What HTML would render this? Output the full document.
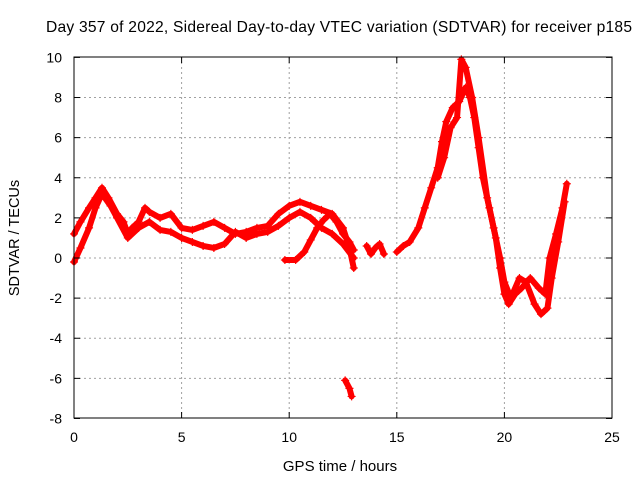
<!DOCTYPE html>
<html><head><meta charset="utf-8"><style>
body{margin:0;background:#fff}
svg text{font-family:"Liberation Sans",sans-serif;font-size:14px;fill:#000}
</style></head><body>
<svg id="chart" width="640" height="480">
<text x="339" y="32" text-anchor="middle" style="font-size:15.6px" textLength="586" lengthAdjust="spacing">Day 357 of 2022, Sidereal Day-to-day VTEC variation (SDTVAR) for receiver p185</text>
<g id="grid"></g><g id="data"></g><g id="axes"></g>
<text x="340" y="471" text-anchor="middle" style="font-size:15px">GPS time / hours</text>
<text transform="translate(19,238) rotate(-90)" text-anchor="middle" style="font-size:14.5px">SDTVAR / TECUs</text>
</svg>
<script>
const xTicks=[0,5,10,15,20,25];
const yTicks=[-8,-6,-4,-2,0,2,4,6,8,10];
const s1x=[0,0.3,0.7,1,1.3,1.6,2,2.3,2.5,2.7,3,3.3,3.5,4,4.5,5,5.5,6,6.5,7,7.5,8,8.5,9,9.5,10,10.5,11,11.5,12,12.5,12.8,13];
const s1y=[1.2,1.8,2.5,3,3.5,3,2.2,1.8,1.2,1.5,1.8,2.5,2.3,2,2.2,1.5,1.4,1.6,1.8,1.5,1.2,1.3,1.5,1.6,2.2,2.6,2.8,2.6,2.4,2.2,1.5,0.5,-0.5];
const s2x=[0,0.3,0.7,1,1.3,1.7,2,2.5,3,3.5,4,4.5,5,5.5,6,6.5,7,7.5,8,8.5,9,9.5,10,10.5,11,11.5,12,12.5,13];
const s2y=[-0.2,0.5,1.5,2.5,3.2,2.6,2,1,1.5,1.8,1.4,1.3,1,0.8,0.6,0.5,0.7,1.3,1,1.2,1.3,1.6,2,2.3,2,1.5,1.2,0.7,0];
const s3x=[9.8,10.3,10.7,11,11.3,11.6,11.9,12.2,12.5,12.8,13];
const s3y=[-0.1,-0.1,0.3,0.9,1.5,1.9,2.2,1.8,1.2,0.8,0.4];
const s4x=[12.6,12.8,12.9];
const s4y=[-6.1,-6.5,-6.9];
const s5x=[13.6,13.8,14,14.2,14.4];
const s5y=[0.6,0.2,0.5,0.7,0.2];
const s6x=[15,15.3,15.6,16,16.3,16.6,16.9,17.1,17.3,17.6,17.9,18.2,18.4,18.6,18.8,19,19.3,19.6,19.8,20,20.2,20.5,20.8,21.2,21.6,21.9,22.1,22.4,22.7,22.9];
const s6y=[0.3,0.6,0.8,1.5,2.5,3.5,4.5,5.8,6.8,7.5,7.8,8.5,8,7,5.5,4,2.5,1,-0.5,-1.8,-2.3,-1.8,-1.5,-1,-1.5,-1.8,0,1.2,2.5,3.7];
const s7x=[16.9,17.2,17.5,17.8,18,18.2,18.5,18.8,19.2,19.5,19.8,20,20.3,20.7,21,21.4,21.7,22,22.2,22.5,22.8];
const s7y=[4,5,6.5,7,9.9,9.5,8,6,3,1.5,0,-1.2,-2,-1,-1.2,-2.3,-2.8,-2.5,-1,0.8,2.8];
const X=v=>74+v*21.52, Y=v=>258-v*20.06;
const NS='http://www.w3.org/2000/svg';
function mk(t,a,p){const e=document.createElementNS(NS,t);for(const k in a)e.setAttribute(k,a[k]);p.appendChild(e);return e;}
const grid=document.getElementById('grid'),axes=document.getElementById('axes'),data=document.getElementById('data');
xTicks.forEach(t=>{
 if(t>0&&t<25){const g=mk('line',{x1:X(t),x2:X(t),y1:57,y2:418,stroke:'#a0a0a0','stroke-dasharray':'2,3'},grid);
 }
 mk('line',{x1:X(t),x2:X(t),y1:418,y2:412,stroke:'#000'},axes);
 mk('line',{x1:X(t),x2:X(t),y1:57,y2:63,stroke:'#000'},axes);
 const l=mk('text',{x:X(t),y:442,'text-anchor':'middle'},axes);l.textContent=t;
 
});
yTicks.forEach(t=>{
 if(t>-8&&t<10){const g=mk('line',{x1:74,x2:612,y1:Y(t),y2:Y(t),stroke:'#a0a0a0','stroke-dasharray':'2,3'},grid);
 }
 mk('line',{x1:74,x2:80,y1:Y(t),y2:Y(t),stroke:'#000'},axes);
 mk('line',{x1:612,x2:606,y1:Y(t),y2:Y(t),stroke:'#000'},axes);
 const l=mk('text',{x:62,y:Y(t)+5,'text-anchor':'end'},axes);l.textContent=t;
 
});
const fr=mk('rect',{x:74,y:57,width:538,height:361,fill:'none',stroke:'#000'},axes);

[[s1x,s1y],[s2x,s2y],[s3x,s3y],[s4x,s4y],[s5x,s5y],[s6x,s6y],[s7x,s7y]].forEach(([xs,ys],i)=>{
 const pts=xs.map((x,j)=>X(x)+','+Y(ys[j])).join(' ');
 const pl=mk('polyline',{points:pts,fill:'none',stroke:'#f00','stroke-width':6,'stroke-linejoin':'round','stroke-linecap':'round'},data);
 
 
 xs.forEach((x,j)=>{const cx=X(x),cy=Y(ys[j]);
  const m=mk('path',{d:`M${cx-4},${cy}h8M${cx},${cy-4}v8`,stroke:'#f00','stroke-width':1.2},data);
  
  
 });
});
</script>
</body></html>
